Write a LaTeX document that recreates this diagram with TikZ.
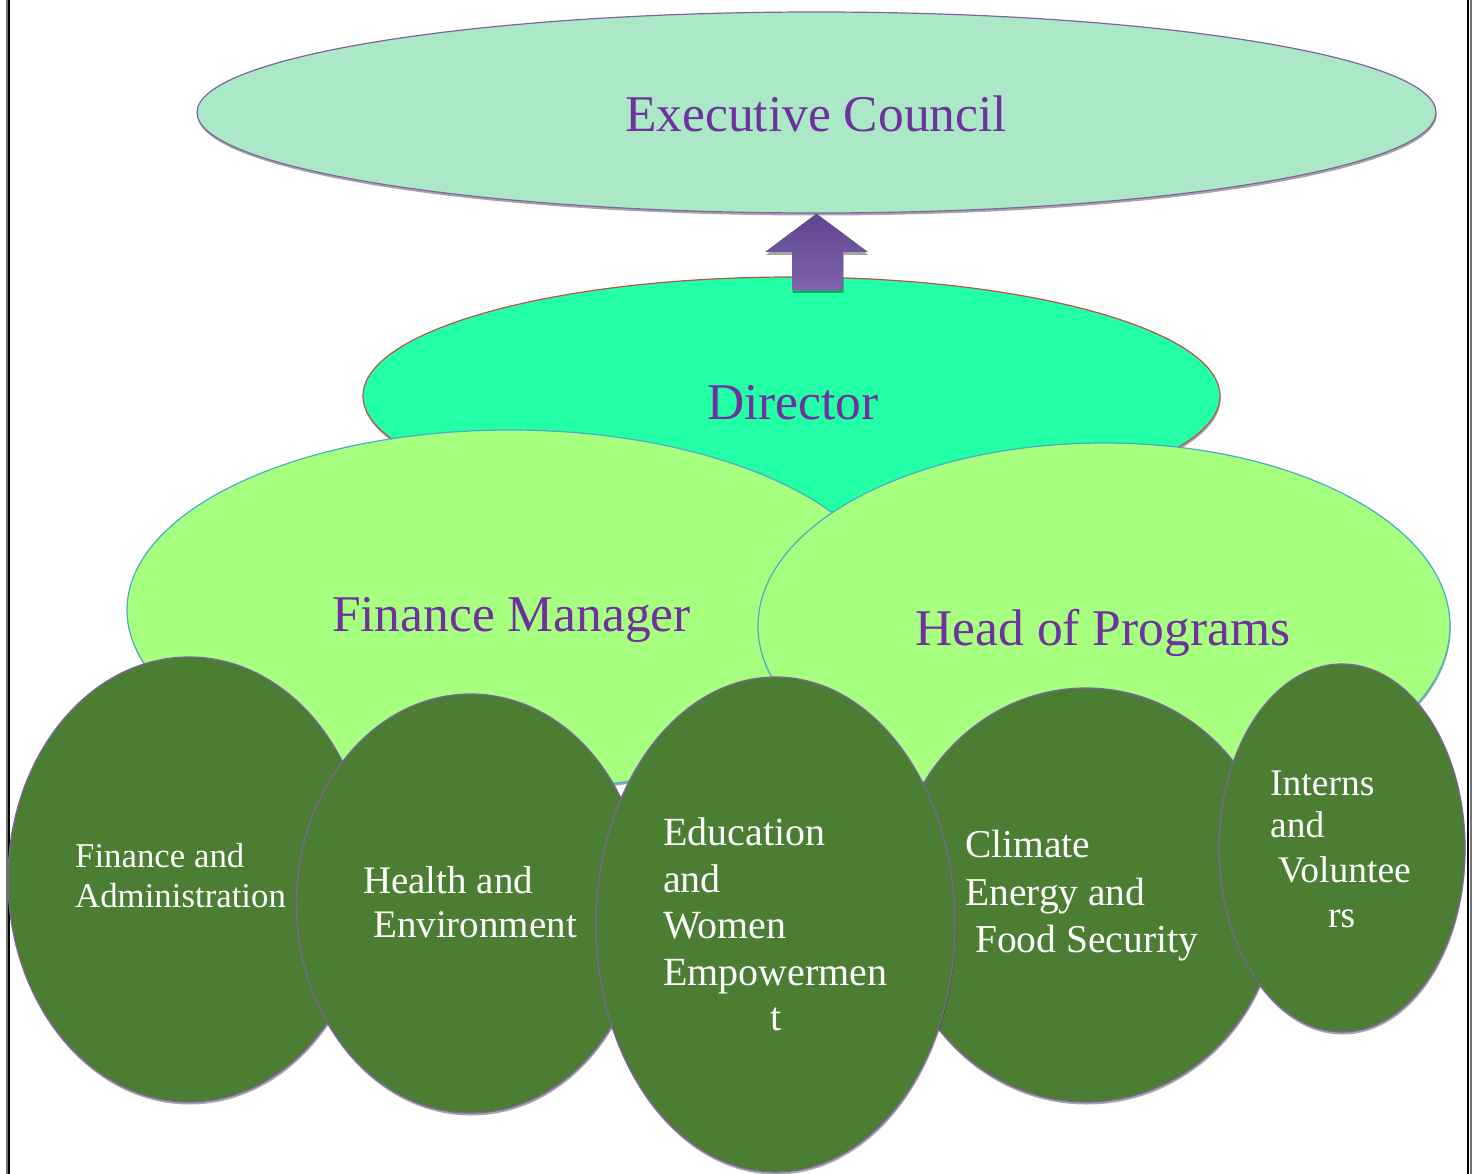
\documentclass[tikz,border=0pt]{standalone}
\usepackage{fontspec}
\setmainfont{Liberation Serif}
\usetikzlibrary{shapes.geometric,shadows}
\definecolor{execfill}{HTML}{AAE8C6}
\definecolor{dirfill}{HTML}{22FFA5}
\definecolor{mgrfill}{HTML}{A6FF7F}
\definecolor{unitfill}{HTML}{4B7E33}
\definecolor{ovpurple}{HTML}{8064A2}
\definecolor{ovred}{HTML}{C0504D}
\definecolor{ovblue}{HTML}{4BACC6}
\definecolor{txtpurple}{HTML}{7030A0}
\definecolor{arrtop}{HTML}{5E4590}
\definecolor{arrbot}{HTML}{8062AC}
\tikzset{
  oval/.style={ellipse, inner sep=0pt, line width=1.2pt,
    drop shadow={shadow xshift=0.6pt, shadow yshift=-2.5pt, fill=black, opacity=0.35}},
  execoval/.style={oval, draw=ovpurple, fill=execfill},
  diroval/.style={oval, draw=ovred, fill=dirfill},
  mgroval/.style={oval, draw=ovblue, fill=mgrfill},
  unitoval/.style={oval, draw=ovpurple, fill=unitfill},
  bigtxt/.style={text=txtpurple, anchor=base, inner sep=0pt, font=\fontsize{51.5}{60}\selectfont},
  unittxt/.style={text=white, anchor=base west, inner sep=0pt},
}
\begin{document}
\begin{tikzpicture}[x=1pt,y=-1pt]
\useasboundingbox (0,0) rectangle (1475,1174);
\fill[white] (0,0) rectangle (1475,1174);
% page border lines
\draw[black!55, line width=2pt] (6.5,0) -- (6.5,1174);
\draw[black, line width=1.3pt] (9,0) -- (9,1174);
\draw[black, line width=1.3pt] (1468,0) -- (1468,1174);
\draw[black!55, line width=2pt] (1470.5,0) -- (1470.5,1174);

% ovals
\node[execoval, minimum width=1239pt, minimum height=201pt] (exec) at (816.5,112.5) {};
\node[diroval, minimum width=857pt, minimum height=238pt] (dir) at (791.5,396) {};
\node[mgroval, minimum width=766pt, minimum height=360pt] (fm) at (510,610) {};
\node[mgroval, minimum width=692pt, minimum height=366pt] (hop) at (1104,626) {};
\node[unitoval, minimum width=362pt, minimum height=445pt] (fa) at (189,879.5) {};
\node[unitoval, minimum width=348pt, minimum height=419pt] (he) at (470.5,903.5) {};
\node[unitoval, minimum width=386pt, minimum height=414pt] (ce) at (1086,895) {};
\node[unitoval, minimum width=246pt, minimum height=368pt] (iv) at (1342,848) {};
\node[unitoval, minimum width=359pt, minimum height=495pt] (ew) at (775.5,924.5) {};

% block arrow from Director up to Executive Council
\shade[top color=arrtop, bottom color=arrbot,
  drop shadow={shadow xshift=0.6pt, shadow yshift=-3pt, fill=black, opacity=0.35}]
  (exec.south) -- (868,252) -- (843,252) -- (843,290) -- (792,290) -- (792,252) -- (765,252) -- cycle;

% labels
\node[bigtxt] (tExec) at (816,132) {Executive Council};
\node[bigtxt] (tDir) at (793,419) {Director};
\node[bigtxt] (tFm) at (511.5,631) {Finance Manager};
\node[bigtxt] (tHop) at (1103,645) {Head of Programs};

\begin{scope}[every node/.style={unittxt, font=\fontsize{34.8}{40}\selectfont}]
\node (fa1) at (75,867) {Finance and};
\node (fa2) at (75,907) {Administration};
\end{scope}
\begin{scope}[every node/.style={unittxt, font=\fontsize{39}{44}\selectfont}]
\node (he1) at (363,893) {Health and};
\node (he2) at (373,937) {Environment};
\end{scope}
\begin{scope}[every node/.style={unittxt, font=\fontsize{40}{46}\selectfont}]
\node (ew1) at (663,845) {Education};
\node (ew2) at (663,892) {and};
\node (ew3) at (663,938) {Women};
\node (ew4) at (663,985) {Empowermen};
\node (ew5) at (770,1030) {t};
\end{scope}
\begin{scope}[every node/.style={unittxt, font=\fontsize{39.5}{46}\selectfont}]
\node (ce1) at (965,857) {Climate};
\node (ce2) at (965,905) {Energy and};
\node (ce3) at (975,952) {Food Security};
\end{scope}
\begin{scope}[every node/.style={unittxt, font=\fontsize{37.5}{44}\selectfont}]
\node (iv1) at (1270,795) {Interns};
\node (iv2) at (1270,837) {and};
\node (iv3) at (1278,882) {Voluntee};
\node (iv4) at (1328,927) {rs};
\end{scope}
\end{tikzpicture}
\end{document}
